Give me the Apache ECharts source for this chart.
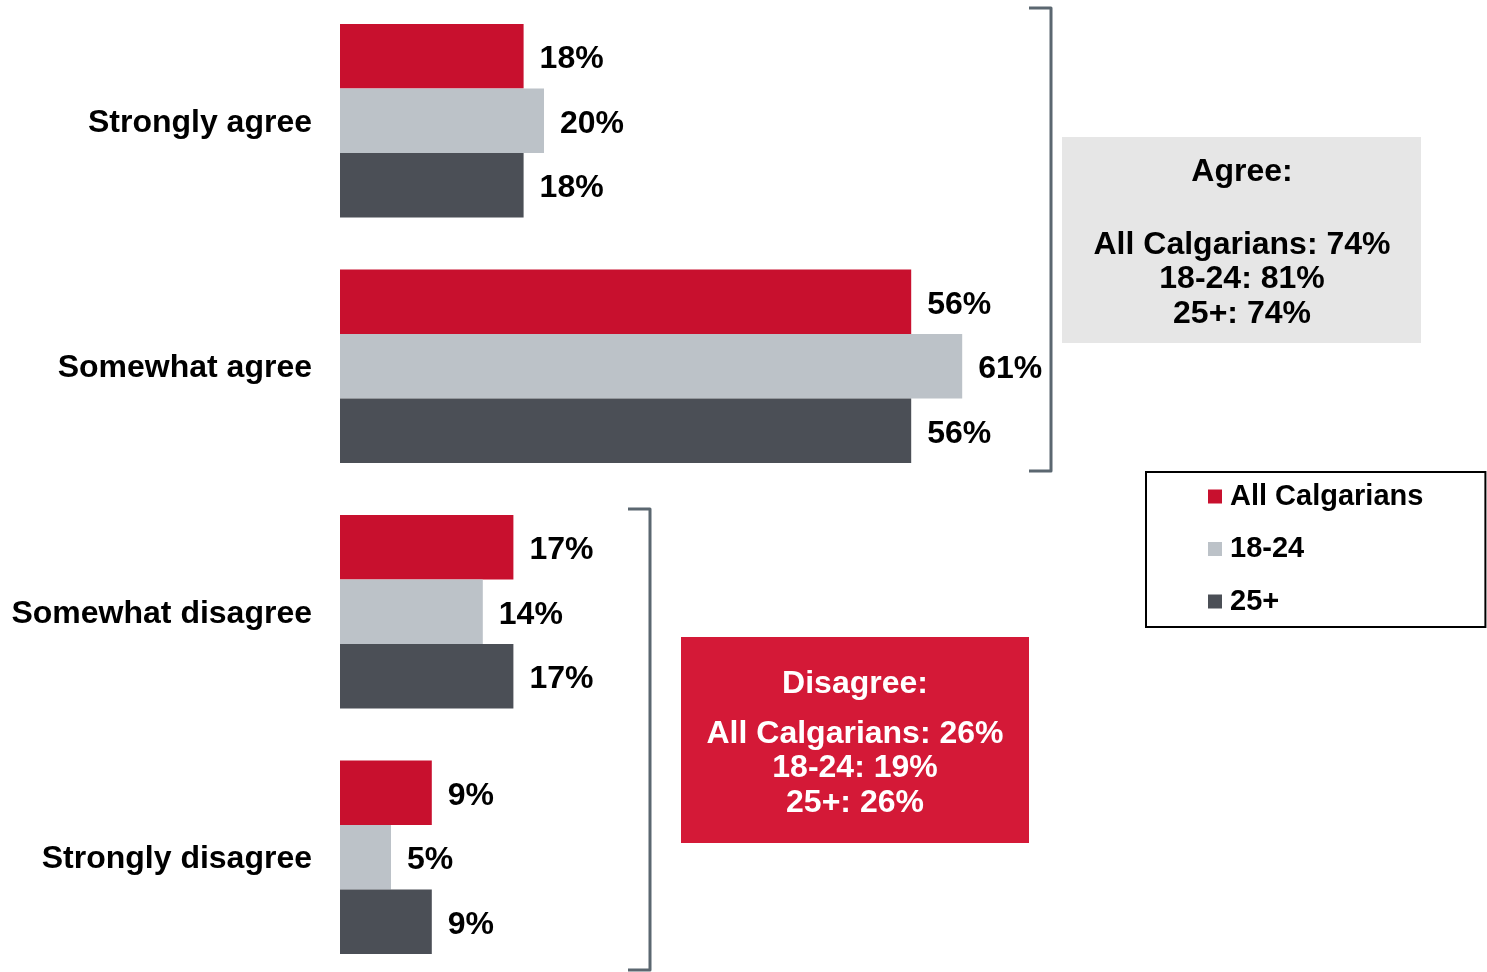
<!DOCTYPE html>
<html>
<head>
<meta charset="utf-8">
<title>Agreement by age group</title>
<script src="https://cdn.jsdelivr.net/npm/echarts@6/dist/echarts.min.js"></script>
<style>
  html, body { margin: 0; padding: 0; background: #ffffff; overflow: hidden; }
  /* canvas extends 2px above and 8px below the viewport so the category bands fill it evenly */
  #chart { position: absolute; left: 0; top: -2px; width: 1487px; height: 982px; }
</style>
</head>
<body>
<div id="chart"></div>
<script>
// Response categories (top to bottom)
const categories = ['Strongly agree', 'Somewhat agree', 'Somewhat disagree', 'Strongly disagree'];

// Group names used by the legend and the summary boxes
const groupNames = ['All Calgarians', '18-24', '25+'];

// Share of respondents (%) per category
const allCalgarians = [18, 56, 17, 9];
const age18to24 = [20, 61, 14, 5];
const age25plus = [18, 56, 17, 9];

// Net totals (%) per group: All Calgarians, 18-24, 25+
const agreeTotals = [74, 81, 74];
const disagreeTotals = [26, 19, 26];

const FONT = '"Liberation Sans", Arial, Helvetica, sans-serif';
const colors = ['#C8102E', '#BCC2C8', '#4B4F56'];
const bracketColor = '#5B6770';
// the canvas starts 2px above the page, so page y = canvas y - OFF
const OFF = 2;

const chart = echarts.init(document.getElementById('chart'), null, { renderer: 'canvas' });

function barSeries(name, values, color) {
  return {
    name: name,
    type: 'bar',
    data: values,
    barGap: '0%',
    barCategoryGap: '21.2%',
    itemStyle: { color: color },
    label: {
      show: true,
      position: 'right',
      distance: 16,
      offset: [0, 3],
      formatter: '{c}%',
      color: '#000',
      fontFamily: FONT,
      fontWeight: 'bold',
      fontSize: 32
    },
    emphasis: { disabled: true }
  };
}

function boxLines(title, totals, cx, top, color, gapAfterTitle) {
  const lines = [];
  lines.push({
    type: 'text',
    style: {
      x: cx, y: top + OFF, text: title, fill: color,
      font: 'bold 32px ' + FONT, align: 'center', verticalAlign: 'middle'
    }
  });
  totals.forEach(function (v, i) {
    lines.push({
      type: 'text',
      style: {
        x: cx, y: top + OFF + gapAfterTitle + i * 34.5,
        text: groupNames[i] + ': ' + v + '%', fill: color,
        font: 'bold 32px ' + FONT, align: 'center', verticalAlign: 'middle'
      }
    });
  });
  return lines;
}

function bracket(xOpen, xSpine, yTop, yBottom) {
  return {
    type: 'polyline',
    shape: { points: [[xOpen, yTop + OFF], [xSpine, yTop + OFF], [xSpine, yBottom + OFF], [xOpen, yBottom + OFF]] },
    style: { stroke: bracketColor, lineWidth: 3, fill: null, lineJoin: 'round' }
  };
}

const labelStyle = {
  color: '#000',
  fontFamily: FONT,
  fontWeight: 'bold',
  fontSize: 32
};

const option = {
  animation: false,
  backgroundColor: '#ffffff',
  grid: { left: 340, top: 0, width: 1020, height: 982, containLabel: false },
  xAxis: {
    type: 'value', min: 0, max: 100, show: false
  },
  yAxis: {
    type: 'category',
    data: categories,
    inverse: true,
    axisLine: { show: false },
    axisTick: { show: false },
    splitLine: { show: false },
    axisLabel: Object.assign({
      margin: 28,
      formatter: '{cat|{value}}',
      rich: {
        cat: Object.assign({ padding: [4, 0, 0, 0] }, labelStyle)
      }
    }, labelStyle)
  },
  legend: {
    orient: 'vertical',
    left: 1146,
    top: 472 + OFF,
    data: groupNames,
    icon: 'rect',
    itemWidth: 14,
    itemHeight: 14,
    itemGap: 23.5,
    padding: [10, 62, 11, 62],
    borderColor: '#000',
    borderWidth: 2,
    backgroundColor: '#fff',
    selectedMode: false,
    textStyle: {
      color: '#000',
      fontFamily: FONT,
      fontWeight: 'bold',
      fontSize: 29,
      lineHeight: 29,
      padding: [0, 0, 0, 3]
    }
  },
  series: [
    barSeries(groupNames[0], allCalgarians, colors[0]),
    barSeries(groupNames[1], age18to24, colors[1]),
    barSeries(groupNames[2], age25plus, colors[2])
  ],
  graphic: [
    // Bracket grouping the two "agree" categories
    bracket(1029, 1051, 8, 471),
    // Bracket grouping the two "disagree" categories
    bracket(628, 650, 509, 970),
    // Agree summary box
    {
      type: 'rect',
      shape: { x: 1062, y: 137 + OFF, width: 359, height: 206 },
      style: { fill: '#E6E6E6' }
    }
  ].concat(
    boxLines('Agree:', agreeTotals, 1242, 172, '#000', 73),
    [
      // Disagree summary box
      {
        type: 'rect',
        shape: { x: 681, y: 637 + OFF, width: 348, height: 206 },
        style: { fill: '#D41937' }
      }
    ],
    boxLines('Disagree:', disagreeTotals, 855, 684, '#fff', 50)
  )
};

chart.setOption(option);
</script>
</body>
</html>
